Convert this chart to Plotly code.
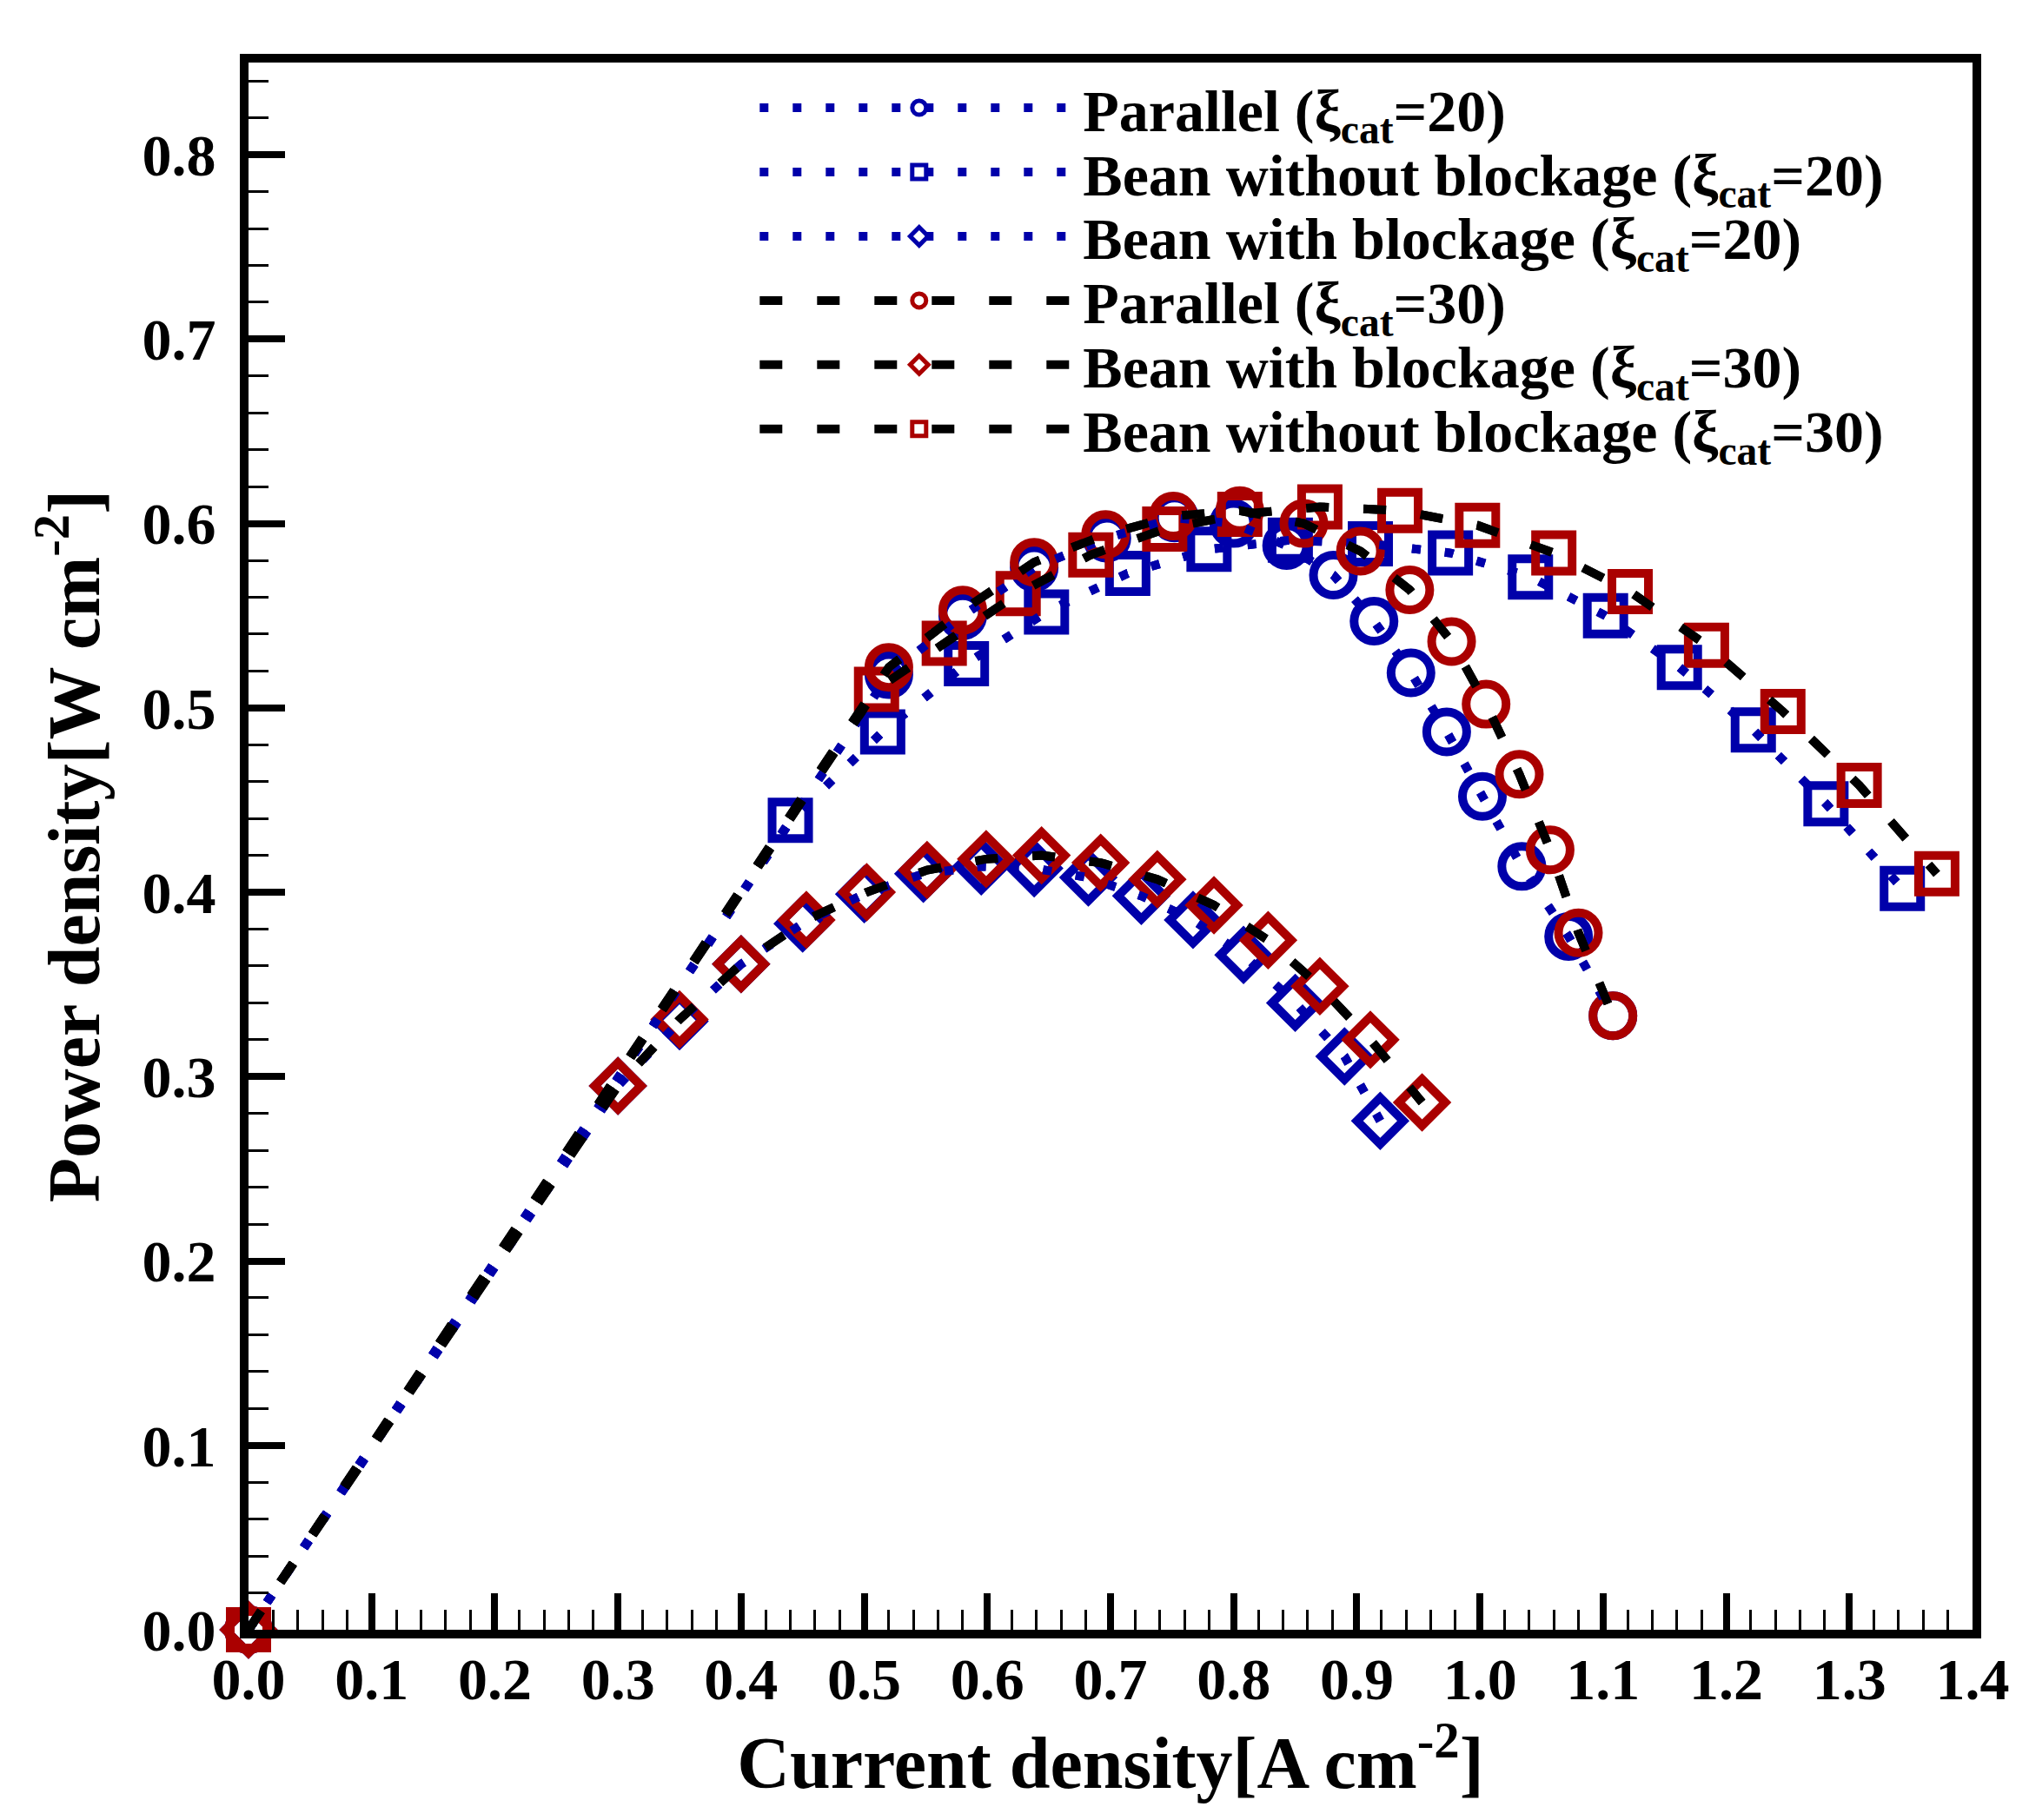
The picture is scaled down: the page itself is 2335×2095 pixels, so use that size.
import plotly.graph_objects as go

# current density [A cm-2] / power density [W cm-2]
par20_i = [0.0, 0.52, 0.58, 0.638, 0.697, 0.752, 0.800, 0.843, 0.881, 0.914, 0.944, 0.973, 1.002, 1.034, 1.072, 1.108]
par20_p = [0.0, 0.518, 0.550, 0.576, 0.592, 0.603, 0.600, 0.588, 0.572, 0.547, 0.519, 0.487, 0.452, 0.414, 0.376, 0.333]

bwo20_i = [0.0, 0.44, 0.515, 0.583, 0.648, 0.714, 0.780, 0.846, 0.911, 0.976, 1.041, 1.102, 1.162, 1.222, 1.281, 1.343]
bwo20_p = [0.0, 0.439, 0.487, 0.524, 0.552, 0.573, 0.586, 0.591, 0.589, 0.584, 0.571, 0.550, 0.522, 0.488, 0.448, 0.402]

bwb20_i = [0.0, 0.30, 0.35, 0.40, 0.45, 0.50, 0.548, 0.595, 0.638, 0.682, 0.725, 0.767, 0.808, 0.850, 0.890, 0.919]
bwb20_p = [0.0, 0.295, 0.330, 0.361, 0.383, 0.399, 0.410, 0.414, 0.413, 0.408, 0.398, 0.385, 0.366, 0.340, 0.311, 0.276]

par30_i = [0.0, 0.52, 0.58, 0.638, 0.696, 0.751, 0.805, 0.857, 0.903, 0.943, 0.977, 1.005, 1.032, 1.057, 1.080, 1.108]
par30_p = [0.0, 0.522, 0.553, 0.579, 0.594, 0.604, 0.607, 0.600, 0.585, 0.564, 0.536, 0.502, 0.464, 0.423, 0.378, 0.333]

bwb30_i = [0.0, 0.30, 0.35, 0.40, 0.453, 0.502, 0.551, 0.599, 0.644, 0.692, 0.738, 0.784, 0.828, 0.870, 0.911, 0.953]
bwb30_p = [0.0, 0.295, 0.331, 0.361, 0.385, 0.400, 0.412, 0.418, 0.420, 0.416, 0.407, 0.393, 0.374, 0.349, 0.320, 0.286]

bwo30_i = [0.0, 0.51, 0.565, 0.625, 0.684, 0.744, 0.805, 0.870, 0.935, 0.998, 1.060, 1.122, 1.184, 1.246, 1.308, 1.371]
bwo30_p = [0.0, 0.510, 0.535, 0.562, 0.583, 0.597, 0.605, 0.609, 0.607, 0.599, 0.584, 0.563, 0.534, 0.498, 0.458, 0.410]

BLUE = "#0000AA"
RED = "#AA0000"
FONT = "Liberation Serif"
DOT = "10px,28px"
DASH = "26px,40px"

# (legend name, x, y, symbol, marker colour, line colour, dash, marker size, legend id)
series = [
    ("Bean with blockage (ξ<sub>cat</sub>=20)", bwb20_i, bwb20_p, "diamond-open", BLUE, BLUE, DOT, 41, "legend3"),
    ("Bean without blockage (ξ<sub>cat</sub>=20)", bwo20_i, bwo20_p, "square-open", BLUE, BLUE, DOT, 42, "legend2"),
    ("Parallel (ξ<sub>cat</sub>=20)", par20_i, par20_p, "circle-open", BLUE, BLUE, DOT, 46, "legend"),
    ("Bean with blockage (ξ<sub>cat</sub>=30)", bwb30_i, bwb30_p, "diamond-open", RED, "black", DASH, 41, "legend5"),
    ("Bean without blockage (ξ<sub>cat</sub>=30)", bwo30_i, bwo30_p, "square-open", RED, "black", DASH, 42, "legend6"),
    ("Parallel (ξ<sub>cat</sub>=30)", par30_i, par30_p, "circle-open", RED, "black", DASH, 46, "legend4"),
]

fig = go.Figure()
for name, x, y, sym, mcol, lcol, dash, size, leg in series:
    fig.add_trace(go.Scatter(
        x=x, y=y, mode="lines+markers", name=name, legend=leg, cliponaxis=False,
        line=dict(color=lcol, width=10, dash=dash),
        marker=dict(symbol=sym, size=size, color=mcol, line=dict(color=mcol, width=10)),
    ))
# lines again on top of the hollow symbols, as in the original
for name, x, y, sym, mcol, lcol, dash, size, leg in series:
    fig.add_trace(go.Scatter(x=x, y=y, mode="lines", showlegend=False, hoverinfo="skip",
                             line=dict(color=lcol, width=10, dash=dash)))

axis_common = dict(
    showline=True, linecolor="black", linewidth=10, mirror=True,
    ticks="inside", ticklen=42, tickwidth=8, tickcolor="black",
    showgrid=False, zeroline=False, dtick=0.1, tickformat=".1f",
    minor=dict(ticks="inside", dtick=0.02, ticklen=23, tickwidth=3, tickcolor="black"),
    tickfont=dict(family=FONT, size=68, color="black", weight="bold"),
    title_font=dict(family=FONT, size=84, color="black", weight="bold"),
)
fig.update_xaxes(range=[0, 1.4], title_text="Current density[A cm<sup>-2</sup>]",
                 title_standoff=8, ticklabelstandoff=-12, **axis_common)
fig.update_yaxes(range=[0, 0.85], title_text="Power density[W cm<sup>-2</sup>]",
                 title_standoff=25, ticklabelstandoff=14, **axis_common)

# one legend per row so the rows can sit as close as in the original
legend_style = dict(x=0.294, xanchor="left", yanchor="middle", bgcolor="rgba(0,0,0,0)",
                    itemwidth=367, font=dict(family=FONT, size=68, color="black", weight="bold"))
row_y = {"legend": 0.971, "legend2": 0.930, "legend3": 0.889,
         "legend4": 0.848, "legend5": 0.807, "legend6": 0.766}

fig.update_layout(
    width=2335, height=2095,
    margin=dict(l=278, r=73, t=64, b=227),
    plot_bgcolor="white", paper_bgcolor="white",
    **{k: dict(y=v, **legend_style) for k, v in row_y.items()},
)

fig.write_html("out.html")
